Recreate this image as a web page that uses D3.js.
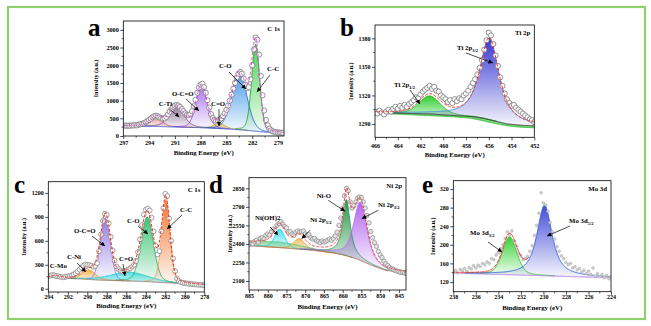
<!DOCTYPE html>
<html>
<head>
<meta charset="utf-8">
<script src="https://cdn.jsdelivr.net/npm/d3@7"></script>
<style>
  body { margin: 0; background: #fff; }
  svg { display: block; }
  svg text { font-family: "Liberation Serif", "Times New Roman", serif; font-weight: bold; fill: #000; }
</style>
</head>
<body>
<script>
// ---------- a : C 1s ----------
const aStart = 297, aStep = 0.2
const aCounts = [290, 300, 285, 295, 290, 300, 295, 305, 300, 320,
  330, 345, 360, 390, 420, 450, 490, 530, 560, 575,
  560, 530, 505, 490, 500, 540, 610, 690, 760, 820,
  860, 875, 860, 820, 760, 700, 640, 600, 590, 620,
  700, 840, 1020, 1220, 1370, 1450, 1480, 1380, 1220, 1010,
  800, 620, 510, 450, 430, 440, 460, 500, 560, 640,
  740, 860, 1000, 1170, 1340, 1500, 1650, 1760, 1810, 1760,
  1620, 1450, 1350, 1380, 1600, 2000, 2450, 2780, 2720, 2300,
  1700, 1150, 720, 450, 300, 210, 160, 130, 115, 105,
  100, 95, 92, 90]
const aBgE = [297, 294, 291, 288, 285, 283, 281, 279.5, 278.3]
const aBgC = [285, 275, 255, 235, 200, 170, 120, 90, 75]
const aPeakNames = ['C-Ti', 'C-Ti (2)', 'O-C=O', 'C=O', 'C-O', 'C-C']
const aPeakCenters = [293.2, 290.8, 287.9, 285.8, 283.5, 281.6]
const aPeakHeights = [270, 590, 1190, 140, 1600, 2450]
const aPeakWidths = [1.6, 2.0, 1.5, 1.6, 2.1, 1.1]
const aPeakMix = [0.3, 0.3, 0.2, 0.2, 0.15, 0.2]
const aXTicks = [297, 294, 291, 288, 285, 282, 279]
const aYTicks = [0, 500, 1000, 1500, 2000, 2500, 3000]

// ---------- b : Ti 2p ----------
const bStart = 466, bStep = 0.2
const bCounts = [1303, 1301, 1304, 1302, 1300, 1303, 1305, 1303, 1306, 1308,
  1306, 1309, 1307, 1310, 1308, 1311, 1313, 1315, 1318, 1317,
  1321, 1324, 1326, 1328, 1330, 1327, 1329, 1325, 1324, 1320,
  1318, 1316, 1313, 1315, 1312, 1316, 1314, 1317, 1316, 1320,
  1322, 1325, 1329, 1333, 1337, 1342, 1349, 1357, 1368, 1378,
  1386, 1383, 1374, 1362, 1351, 1339, 1330, 1322, 1316, 1312,
  1309, 1310, 1307, 1305, 1303, 1301, 1299, 1297, 1295, 1294,
  1292]
const bBgE = [466, 461.2, 457.4, 456.5, 455.6, 454.4, 453, 452]
const bBgC = [1302, 1300.5, 1297.7, 1296, 1293.5, 1290, 1288.5, 1288]
const bLowE = [466, 459, 457.5, 456, 455, 454, 453, 452]
const bLowC = [1301.5, 1297.5, 1296, 1292, 1289.5, 1287.5, 1286.5, 1286]
const bPeakNames = ['Ti 2p1/2', 'Ti 2p3/2']
const bPeakCenters = [461.2, 455.95]
const bPeakHeights = [19, 86]
const bPeakWidths = [2.2, 2.0]
const bPeakMix = [0.3, 0.8]
const bXTicks = [466, 464, 462, 460, 458, 456, 454, 452]
const bYTicks = [1290, 1320, 1350, 1380]

// ---------- c : C 1s ----------
const cStart = 294, cStep = 0.2
const cCounts = [160, 165, 172, 168, 160, 158, 150, 145, 142, 150,
  155, 160, 168, 180, 195, 215, 240, 265, 290, 305,
  300, 298, 290, 275, 285, 320, 470, 680, 850, 940,
  925, 820, 650, 480, 355, 280, 245, 225, 215, 222,
  230, 240, 255, 275, 300, 350, 460, 620, 800, 930,
  990, 1005, 980, 890, 720, 540, 430, 470, 720, 1010,
  1190, 1160, 880, 600, 380, 220, 130, 95, 80, 75,
  70, 68, 62, 60, 57, 55, 52, 50, 49, 47,
  46]
const cBgE = [294, 291, 288.7, 286, 283.6, 280.8, 279, 278]
const cBgC = [142, 125, 108, 98, 88, 67, 52, 46]
const cPeakNames = ['C-Mo', 'C-Ni', 'O-C=O', 'C=O', 'C-O', 'C-C']
const cPeakCenters = [293.3, 289.85, 288.15, 285.7, 283.85, 281.95]
const cPeakHeights = [22, 120, 780, 110, 810, 1045]
const cPeakWidths = [1.0, 1.6, 1.2, 4.5, 1.5, 1.0]
const cPeakMix = [0.2, 0.3, 0.1, 0.3, 0.2, 0.2]
const cXTicks = [294, 292, 290, 288, 286, 284, 282, 280, 278]
const cYTicks = [0, 300, 600, 900, 1200]

// ---------- d : Ni 2p ----------
const dStart = 885, dStep = 0.5
const dCounts = [2395, 2410, 2400, 2420, 2430, 2415, 2445, 2450, 2440, 2470,
  2480, 2470, 2500, 2520, 2510, 2550, 2565, 2580, 2560, 2540,
  2530, 2495, 2500, 2480, 2470, 2495, 2505, 2495, 2500, 2505,
  2480, 2470, 2475, 2450, 2440, 2445, 2425, 2420, 2410, 2425,
  2415, 2420, 2430, 2440, 2430, 2445, 2465, 2495, 2550, 2610,
  2690, 2790, 2850, 2830, 2740, 2690, 2710, 2740, 2770, 2780,
  2775, 2740, 2690, 2630, 2570, 2500, 2450, 2410, 2380, 2340,
  2310, 2290, 2260, 2240, 2225, 2210, 2200, 2195, 2185, 2180,
  2175, 2170, 2168, 2165, 2160]
const dBgE = [885, 876, 868, 862, 859.4, 856, 852.3, 848.7, 846, 843]
const dBgC = [2386, 2368, 2349, 2325, 2308, 2276, 2227, 2187, 2177, 2170]
const dPeakNames = ['Satellite', 'Ni(OH)2', 'Ni 2p1/2', 'Ni-O', 'Ni 2p3/2']
const dPeakCenters = [878, 876.8, 871.6, 859.0, 855.3]
const dPeakHeights = [45, 150, 85, 455, 470]
const dPeakWidths = [16, 3.2, 3.5, 2.4, 4.2]
const dPeakMix = [0, 0.3, 0.3, 0.9, 0.6]
const dXTicks = [885, 880, 875, 870, 865, 860, 855, 850, 845]
const dYTicks = [2100, 2250, 2400, 2550, 2700, 2850]

// ---------- e : Mo 3d ----------
const eStart = 238, eStep = 0.2
const eCounts = [142, 145, 139, 147, 144, 149, 143, 151, 148, 155,
  150, 156, 153, 160, 157, 163, 160, 170, 168, 178,
  183, 192, 200, 214, 228, 222, 230, 208, 196, 182,
  176, 168, 171, 175, 186, 198, 220, 242, 268, 312,
  290, 286, 272, 248, 228, 212, 196, 186, 176, 170,
  162, 157, 160, 150, 153, 146, 149, 141, 145, 138,
  143, 136, 150, 133, 138, 131, 136, 129, 134, 127,
  131]
const eBgE = [238, 231, 224]
const eBgC = [139, 134, 129]
const ePeakNames = ['Mo 3d3/2', 'Mo 3d5/2']
const ePeakCenters = [233.0, 229.9]
const ePeakHeights = [82, 152]
const ePeakWidths = [1.5, 1.6]
const ePeakMix = [0.3, 0.8]
const eXTicks = [238, 236, 234, 232, 230, 228, 226, 224]
const eYTicks = [120, 160, 200, 240, 280, 320]

let svg = d3.select('body').append('svg').attr('width', 651).attr('height', 326)
let defs = svg.append('defs')

defs.append('marker')
  .attr('id', 'arrow')
  .attr('viewBox', '0 0 6 6')
  .attr('refX', 6).attr('refY', 3)
  .attr('markerUnits', 'userSpaceOnUse')
  .attr('markerWidth', 4.5).attr('markerHeight', 4.5)
  .attr('orient', 'auto')
  .append('path').attr('d', 'M0,0L6,3L0,6Z').attr('fill', '#000')

svg.append('rect')
  .attr('x', 8).attr('y', 7).attr('width', 637).attr('height', 312)
  .attr('fill', 'none').attr('stroke', '#8fd06c').attr('stroke-width', 2.2)

// pseudo-Voigt peak shape
function pv(e, c, h, w, m) {
  let u = (e - c) / w
  return h * (m / (1 + 4 * u * u) + (1 - m) * Math.exp(-4 * Math.LN2 * u * u))
}

function drawPanel(p) {
  let x = d3.scaleLinear().domain(p.xDomain).range([p.left, p.left + p.width])
  let y = d3.scaleLinear().domain(p.yDomain).range([p.top + p.height, p.top])
  let bg = d3.scaleLinear().domain(p.bgE).range(p.bgC)

  let g = svg.append('g')
  let clipId = 'clip-' + p.id
  defs.append('clipPath').attr('id', clipId).append('rect')
    .attr('x', p.left).attr('y', p.top).attr('width', p.width).attr('height', p.height)
  let plot = g.append('g').attr('clip-path', 'url(#' + clipId + ')')

  let lo = d3.min(p.xDomain), hi = d3.max(p.xDomain)
  let grid = d3.range(0, 601).map(i => lo + (hi - lo) * i / 600)

  let peaks = p.centers.map((c, i) => ({
    c: c, h: p.heights[i], w: p.widths[i], m: p.mix[i],
    fill: p.fills[i], line: p.lines[i]
  }))
  let comp = (k, e) => pv(e, k.c, k.h, k.w, k.m)

  if (p.low) {
    let lowScale = d3.scaleLinear().domain(p.low.e).range(p.low.c)
    plot.append('path').datum(grid)
      .attr('fill', p.low.color).attr('fill-opacity', 0.55)
      .attr('d', d3.area().x(e => x(e)).y0(e => y(lowScale(e))).y1(e => y(bg(e))))
    plot.append('path').datum(grid)
      .attr('fill', 'none').attr('stroke', p.low.color).attr('stroke-width', 1)
      .attr('d', d3.line().x(e => x(e)).y(e => y(lowScale(e))))
  }

  peaks.forEach((k, i) => {
    let pts = grid.filter(e => comp(k, e) > k.h * 0.01)
    let gid = 'grad-' + p.id + '-' + i
    let grad = defs.append('linearGradient').attr('id', gid)
      .attr('x1', 0).attr('y1', 0).attr('x2', 0).attr('y2', 1)
    grad.append('stop').attr('offset', '0%').attr('stop-color', k.fill).attr('stop-opacity', 0.95)
    grad.append('stop').attr('offset', '100%').attr('stop-color', k.fill).attr('stop-opacity', 0.04)
    plot.append('path').datum(pts)
      .attr('fill', 'url(#' + gid + ')')
      .attr('d', d3.area().x(e => x(e)).y0(e => y(bg(e))).y1(e => y(bg(e) + comp(k, e))))
  })

  peaks.forEach(k => {
    let pts = grid.filter(e => comp(k, e) > k.h * 0.01)
    plot.append('path').datum(pts)
      .attr('fill', 'none').attr('stroke', k.line).attr('stroke-width', 0.9)
      .attr('d', d3.line().x(e => x(e)).y(e => y(bg(e) + comp(k, e))))
  })

  plot.append('path').datum(grid)
    .attr('fill', 'none').attr('stroke', p.bgColor).attr('stroke-width', 0.9)
    .attr('d', d3.line().x(e => x(e)).y(e => y(bg(e))))

  let points = p.counts.map((c, i) => ({ e: p.start - i * p.step, c: c }))
  plot.selectAll('circle.pt')
    .data(points)
    .enter()
    .append('circle')
    .attr('class', 'pt')
    .attr('cx', d => x(d.e))
    .attr('cy', d => y(d.c))
    .attr('r', p.dot.r)
    .attr('fill', p.dot.fill)
    .attr('stroke', p.dot.stroke)
    .attr('stroke-width', p.dot.sw)

  let envGrid = grid.filter(e => e >= p.envFrom)
  plot.append('path').datum(envGrid)
    .attr('fill', 'none').attr('stroke', p.envColor).attr('stroke-width', 1)
    .attr('stroke-dasharray', p.envDash)
    .attr('d', d3.line().x(e => x(e)).y(e => y(bg(e) + d3.sum(peaks, k => comp(k, e)))))

  // frame
  g.append('rect')
    .attr('x', p.left).attr('y', p.top).attr('width', p.width).attr('height', p.height)
    .attr('fill', 'none').attr('stroke', '#000').attr('stroke-width', 0.8)

  let xAxis = g.append('g')
    .attr('transform', 'translate(0,' + (p.top + p.height) + ')')
    .call(d3.axisBottom(x).tickValues(p.xTicks).tickSize(3).tickPadding(p.xPad).tickFormat(d3.format('d')))
  let yAxis = g.append('g')
    .attr('transform', 'translate(' + p.left + ',0)')
    .call(d3.axisLeft(y).tickValues(p.yTicks).tickSize(3).tickPadding(1.5).tickFormat(d3.format('d')))
  ;[xAxis, yAxis].forEach(ax => {
    ax.select('.domain').remove()
    ax.attr('font-family', null).attr('font-size', null)
    ax.selectAll('line').attr('stroke', '#000').attr('stroke-width', 0.7)
    ax.selectAll('text').attr('font-size', p.tickFont)
  })

  // minor ticks halfway between majors
  let xMinor = d3.pairs(p.xTicks).map(([a, b]) => (a + b) / 2)
  g.selectAll('line.xminor').data(xMinor).enter().append('line')
    .attr('x1', d => x(d)).attr('x2', d => x(d))
    .attr('y1', p.top + p.height).attr('y2', p.top + p.height + 1.8)
    .attr('stroke', '#000').attr('stroke-width', 0.6)
  let yMinor = d3.pairs(p.yTicks).map(([a, b]) => (a + b) / 2)
  g.selectAll('line.yminor').data(yMinor).enter().append('line')
    .attr('x1', p.left - 1.8).attr('x2', p.left)
    .attr('y1', d => y(d)).attr('y2', d => y(d))
    .attr('stroke', '#000').attr('stroke-width', 0.6)

  g.append('text')
    .attr('x', p.left + p.width / 2).attr('y', p.top + p.height + p.xTitleGap)
    .attr('text-anchor', 'middle').attr('font-size', 6.8)
    .text('Binding Energy (eV)')
  g.append('text')
    .attr('transform', 'translate(' + (p.left - p.yTitleGap) + ',' + (p.top + p.height / 2) + ') rotate(-90)')
    .attr('text-anchor', 'middle').attr('font-size', 6)
    .text('Intensity (a.u.)')

  g.append('text')
    .attr('x', p.left + p.width - 4).attr('y', p.top + 10)
    .attr('text-anchor', 'end').attr('font-size', 6.8)
    .text(p.title)

  g.append('text')
    .attr('x', p.letterX).attr('y', p.letterY)
    .attr('font-size', 25)
    .text(p.letter)

  p.labels.forEach(l => {
    let t = g.append('text')
      .attr('x', p.left + l.x).attr('y', p.top + l.y)
      .attr('font-size', 6.8)
    t.append('tspan').text(l.t)
    if (l.sub) t.append('tspan').attr('font-size', 4.6).attr('dy', 1.6).text(l.sub)
    if (!l.a) return
    g.append('line')
      .attr('x1', p.left + l.a[0]).attr('y1', p.top + l.a[1])
      .attr('x2', p.left + l.a[2]).attr('y2', p.top + l.a[3])
      .attr('stroke', '#000').attr('stroke-width', 0.7)
      .attr('marker-end', 'url(#arrow)')
  })
}

drawPanel({
  id: 'a', letter: 'a', letterX: 88, letterY: 36, title: 'C 1s',
  left: 123.3, top: 21, width: 160.7, height: 115,
  xDomain: [297, 278.3], yDomain: [0, 3250],
  xTicks: aXTicks, yTicks: aYTicks, xPad: 1.5, tickFont: 6.2,
  xTitleGap: 19, yTitleGap: 25,
  start: aStart, step: aStep, counts: aCounts,
  bgE: aBgE, bgC: aBgC, bgColor: '#3050d8',
  centers: aPeakCenters, heights: aPeakHeights, widths: aPeakWidths, mix: aPeakMix,
  fills: ['#e98a8a', '#8e6e98', '#a56ef0', '#f0cc50', '#3f97ea', '#3fd04a'],
  lines: ['#d05050', '#6d4d80', '#9040e8', '#d0a020', '#2a60d8', '#22a830'],
  envColor: '#f040f0', envDash: '3,2', envFrom: 0,
  dot: { r: 2.6, fill: '#fff', stroke: '#777', sw: 0.8 },
  labels: [
    { t: 'C-Ti', x: 35.4, y: 85, a: [46, 88, 56, 96] },
    { t: 'O-C=O', x: 48.7, y: 75, a: [62.7, 78, 75.7, 90] },
    { t: 'C=O', x: 87.7, y: 85, a: [95.7, 88, 95.7, 105] },
    { t: 'C-O', x: 95.7, y: 47, a: [105.7, 51, 122.7, 68] },
    { t: 'C-C', x: 143.7, y: 50, a: [146.7, 54, 133.7, 71] }
  ]
})

drawPanel({
  id: 'b', letter: 'b', letterX: 340, letterY: 36, title: 'Ti 2p',
  left: 375, top: 25, width: 159.3, height: 112.3,
  xDomain: [466, 452], yDomain: [1276, 1394],
  xTicks: bXTicks, yTicks: bYTicks, xPad: 3.2, tickFont: 6,
  xTitleGap: 20, yTitleGap: 22,
  start: bStart, step: bStep, counts: bCounts,
  bgE: bBgE, bgC: bBgC, bgColor: '#222',
  low: { e: bLowE, c: bLowC, color: '#22bb22' },
  centers: bPeakCenters, heights: bPeakHeights, widths: bPeakWidths, mix: bPeakMix,
  fills: ['#22cc22', '#2a2ad0'],
  lines: ['#20b020', '#3d8fe8'],
  envColor: '#ff2020', envDash: '3,1.5', envFrom: 0,
  dot: { r: 2.6, fill: '#fff', stroke: '#777', sw: 0.8 },
  labels: [
    { t: 'Ti 2p', sub: '3/2', x: 82, y: 25, a: [91, 28, 118, 38] },
    { t: 'Ti 2p', sub: '1/2', x: 19, y: 62, a: [35, 65, 45, 79] }
  ]
})

drawPanel({
  id: 'c', letter: 'c', letterX: 14, letterY: 193, title: 'C 1s',
  left: 48.3, top: 181.7, width: 156, height: 110.3,
  xDomain: [294, 278], yDomain: [-41, 1341],
  xTicks: cXTicks, yTicks: cYTicks, xPad: 0, tickFont: 6,
  xTitleGap: 15.5, yTitleGap: 22,
  start: cStart, step: cStep, counts: cCounts,
  bgE: cBgE, bgC: cBgC, bgColor: '#8b7068',
  centers: cPeakCenters, heights: cPeakHeights, widths: cPeakWidths, mix: cPeakMix,
  fills: ['#2e8b57', '#f2b040', '#8878e0', '#40e0e8', '#34c070', '#f07020'],
  lines: ['#2e8b57', '#e0a040', '#a070e8', '#20c8d8', '#30a860', '#f0a070'],
  envColor: '#ee2a10', envDash: '3,1.5', envFrom: 0,
  dot: { r: 2.4, fill: '#fff', stroke: '#888', sw: 0.8 },
  labels: [
    { t: 'C-Mo', x: 1.5, y: 86.3 },
    { t: 'C-Ni', x: 18.7, y: 77.3, a: [28.7, 81.3, 37.7, 90.3] },
    { t: 'O-C=O', x: 25.7, y: 51.3, a: [43.7, 54.3, 56.7, 64.3] },
    { t: 'C=O', x: 70.7, y: 79.3, a: [74.7, 82.3, 76.7, 94.3] },
    { t: 'C-O', x: 78.7, y: 41.3, a: [89.7, 44.3, 99.7, 52.3] },
    { t: 'C-C', x: 131.7, y: 30.3, a: [133.7, 33.3, 118.7, 47.3] }
  ]
})

drawPanel({
  id: 'd', letter: 'd', letterX: 209, letterY: 193, title: 'Ni 2p',
  left: 249, top: 177.7, width: 157, height: 112.3,
  xDomain: [885, 843.1], yDomain: [2027, 2936],
  xTicks: dXTicks, yTicks: dYTicks, xPad: 0.5, tickFont: 6,
  xTitleGap: 18.5, yTitleGap: 17.5,
  start: dStart, step: dStep, counts: dCounts,
  bgE: dBgE, bgC: dBgC, bgColor: '#a85a4a',
  centers: dPeakCenters, heights: dPeakHeights, widths: dPeakWidths, mix: dPeakMix,
  fills: ['#9cd89c', '#40e0f0', '#f0c060', '#1f8f40', '#b060f0'],
  lines: ['#60c070', '#30c8e8', '#e0a040', '#28a058', '#b070f0'],
  envColor: '#f03a3a', envDash: '3,1.5', envFrom: 0,
  dot: { r: 2.2, fill: '#e4e4e4', stroke: '#888', sw: 0.7 },
  labels: [
    { t: 'Ni(OH)2', x: 6, y: 42.6, a: [21, 49.3, 29.3, 57.6] },
    { t: 'Ni 2p', sub: '1/2', x: 61, y: 44.3, a: [61, 52.6, 52.7, 61] },
    { t: 'Ni-O', x: 67.7, y: 20.3, a: [79.3, 22.6, 96, 33.6] },
    { t: 'Ni 2p', sub: '3/2', x: 129, y: 29.3, a: [129.3, 32.6, 112.7, 41] }
  ]
})

drawPanel({
  id: 'e', letter: 'e', letterX: 422, letterY: 193, title: 'Mo 3d',
  left: 453.3, top: 180.7, width: 157.7, height: 111,
  xDomain: [238, 224], yDomain: [99, 338],
  xTicks: eXTicks, yTicks: eYTicks, xPad: 0.1, tickFont: 6,
  xTitleGap: 18, yTitleGap: 18.5,
  start: eStart, step: eStep, counts: eCounts,
  bgE: eBgE, bgC: eBgC, bgColor: '#b070e0',
  centers: ePeakCenters, heights: ePeakHeights, widths: ePeakWidths, mix: ePeakMix,
  fills: ['#2ed02e', '#3a44d4'],
  lines: ['#30c030', '#2f5ad8'],
  envColor: '#f02020', envDash: '4,1', envFrom: 231.3,
  dot: { r: 1.4, fill: '#cfcfcf', stroke: '#aaa', sw: 0.5 },
  labels: [
    { t: 'Mo 3d', sub: '3/2', x: 16.7, y: 54.3, a: [34.7, 61.3, 48.7, 71.3] },
    { t: 'Mo 3d', sub: '5/2', x: 115.7, y: 42.3, a: [116.7, 45.3, 93.7, 55.3] }
  ]
})
</script>
</body>
</html>
